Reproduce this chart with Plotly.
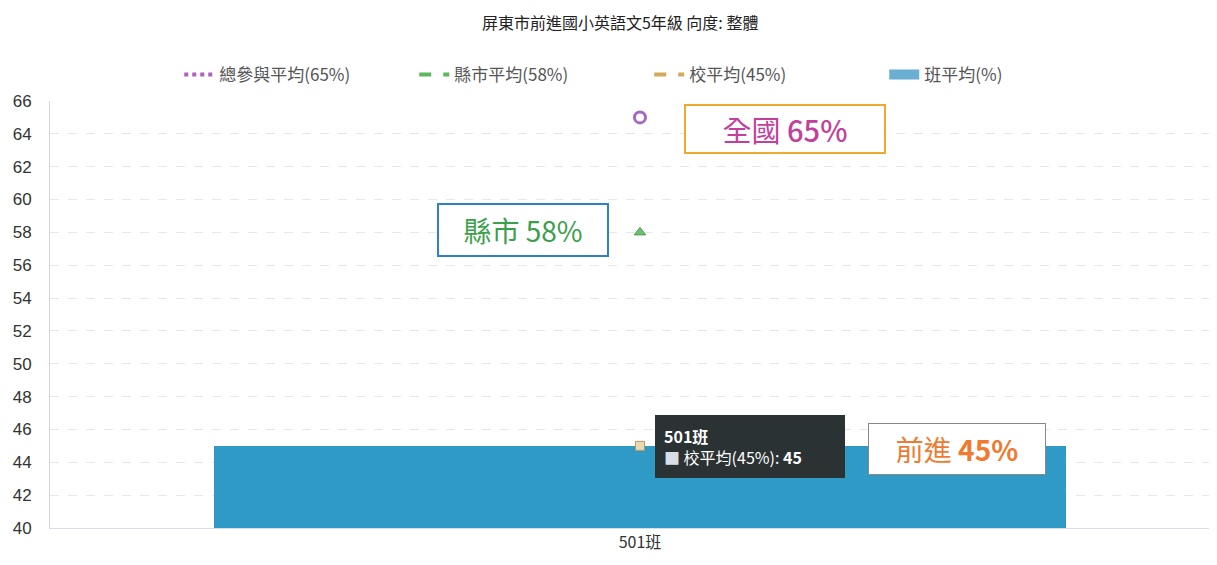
import plotly.graph_objects as go

categories = ["501班"]
class_avg = [45]
national_avg = [65]
county_avg = [58]
school_avg = [45]
y_ticks = list(range(40, 67, 2))

title_text = "屏東市前進國小英語文5年級 向度: 整體"
legend_names = ["總參與平均(65%)", "縣市平均(58%)", "校平均(45%)", "班平均(%)"]

FONT = "Noto Sans CJK TC, Noto Sans, sans-serif"

fig = go.Figure()

fig.add_trace(go.Bar(
    x=categories, y=class_avg, name=legend_names[3], width=0.722,
    marker=dict(color="#2f9ac6", line=dict(width=0)),
    showlegend=False,
))

# legend-only traces (line styles)
fig.add_trace(go.Scatter(x=[None], y=[None], mode="lines", name=legend_names[0],
                         line=dict(color="#b15fc0", width=4, dash="dot")))
fig.add_trace(go.Scatter(x=[None], y=[None], mode="lines", name=legend_names[1],
                         line=dict(color="#5cb85c", width=4, dash="dash")))
fig.add_trace(go.Scatter(x=[None], y=[None], mode="lines", name=legend_names[2],
                         line=dict(color="#d4a95a", width=4, dash="dash")))
fig.add_trace(go.Scatter(x=[None], y=[None], mode="lines", name=legend_names[3],
                         line=dict(color="#6aaed2", width=18)))

# point markers
fig.add_trace(go.Scatter(x=categories, y=national_avg, mode="markers", showlegend=False,
                         marker=dict(symbol="circle-open", size=11, color="#a368c4",
                                     line=dict(width=3, color="#a368c4"))))
fig.add_trace(go.Scatter(x=categories, y=county_avg, mode="markers", showlegend=False,
                         marker=dict(symbol="triangle-up", size=10, color="#6cc070",
                                     line=dict(width=1, color="#4a9a4e"))))
fig.add_trace(go.Scatter(x=categories, y=school_avg, mode="markers", showlegend=False,
                         marker=dict(symbol="square", size=9, color="#e8d9b0",
                                     line=dict(width=1, color="#b89a60"))))

annotations = [
    dict(x=0.123, y=64.3, xref="x", yref="y", xanchor="center", yanchor="middle",
         text="全國 <span style='font-weight:500'>65%</span>", showarrow=False,
         font=dict(family=FONT, size=29, color="#c2409c"),
         bordercolor="#f0a830", borderwidth=2, borderpad=2, bgcolor="white", width=194),
    dict(x=-0.099, y=58.15, xref="x", yref="y", xanchor="center", yanchor="middle",
         text="縣市 58%", showarrow=False,
         font=dict(family=FONT, size=28, color="#3aa04a"),
         bordercolor="#2f7fd0", borderwidth=2, borderpad=5, bgcolor="white", width=158),
    dict(x=0.269, y=44.8, xref="x", yref="y", xanchor="center", yanchor="middle",
         text="前進 <b>45%</b>", showarrow=False,
         font=dict(family=FONT, size=28, color="#f07a30"),
         bordercolor="#888888", borderwidth=1, borderpad=5, bgcolor="white", width=166),
    dict(x=0.0127, y=44.96, xref="x", yref="y", xanchor="left", yanchor="middle",
         text="<b>501班</b><br><span style='color:#d8dde6'>■</span> 校平均(45%): <b>45</b>",
         showarrow=False, align="left",
         font=dict(family=FONT, size=16, color="white"),
         bgcolor="#2b3234", bordercolor="#2b3234", borderwidth=1, borderpad=8, width=172),
]

fig.update_layout(
    width=1217, height=565,
    margin=dict(l=42, r=0, t=93, b=45, autoexpand=False),
    paper_bgcolor="white", plot_bgcolor="white",
    font=dict(family=FONT, color="#444444"),
    title=dict(text=title_text, x=0.503, xanchor="center", y=0.972, yanchor="middle",
               font=dict(family=FONT, size=16, color="#222222")),
    legend=dict(orientation="h", x=0.51, xanchor="center", y=1.019, yanchor="bottom",
                font=dict(family=FONT, size=17, color="#555555"),
                entrywidth=190, entrywidthmode="pixels",
                bgcolor="rgba(0,0,0,0)"),
    bargap=0, barmode="overlay",
    annotations=annotations,
    showlegend=True,
)

fig.update_xaxes(type="category", range=[-0.5, 0.4958], showgrid=False, automargin=False,
                 showline=True, linecolor="#d8dde8", linewidth=1,
                 tickfont=dict(family=FONT, size=16, color="#333333"), ticks="")
fig.update_yaxes(range=[40, 66], tickvals=y_ticks, showgrid=True, automargin=False,
                 gridcolor="#e6e8ee", griddash="dash", gridwidth=1,
                 showline=True, linecolor="#d0d6e4", linewidth=1, zeroline=False,
                 tickfont=dict(family="Liberation Sans, Arial, sans-serif", size=17, color="#333333"),
                 ticks="", ticklabelstandoff=14)

fig.write_html("out.html")
